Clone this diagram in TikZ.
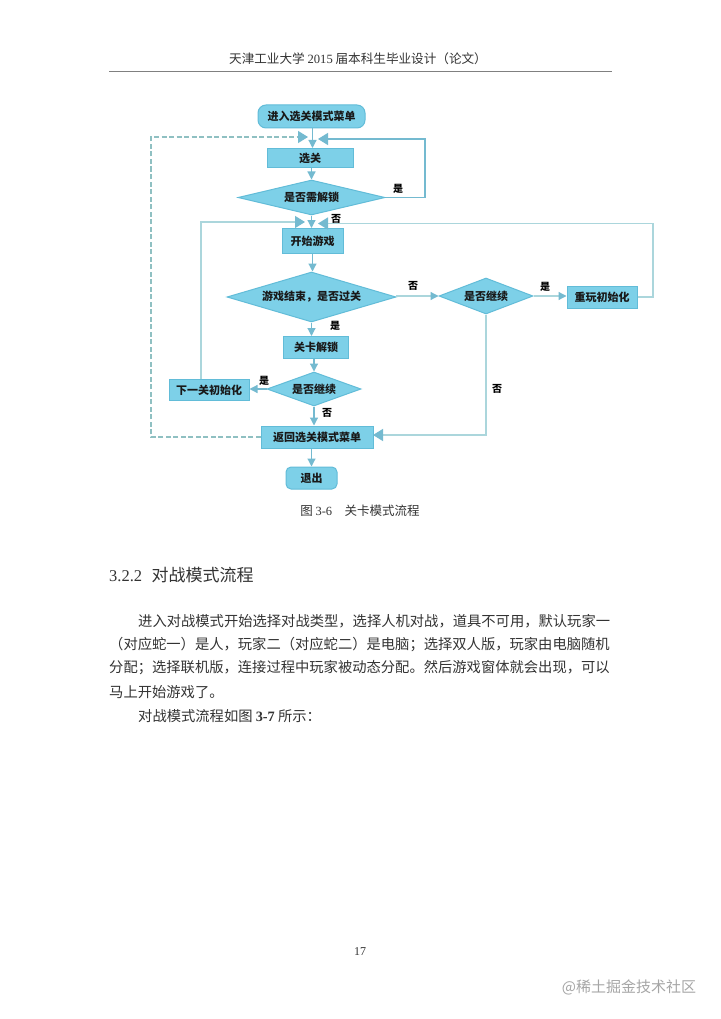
\documentclass[tikz,border=0pt]{standalone}
\usepackage{fontspec}
\setmainfont{Liberation Serif}
\newfontfamily\cjk{Noto Sans CJK SC}
\usetikzlibrary{shapes.geometric,arrows.meta}
\definecolor{boxfill}{HTML}{7DD0E8}
\definecolor{boxline}{HTML}{62BCD8}
\definecolor{flowline}{HTML}{74BAD0}
\definecolor{paleline}{HTML}{ABD6DC}
\definecolor{dashline}{HTML}{8FC0C2}
\tikzset{
    box/.style={draw=boxline,fill=boxfill,line width=1pt,inner sep=0,text=black!90},
    dia/.style={box,diamond,inner sep=0,aspect=4},
    flow/.style={draw=flowline,line width=1.2pt,-{Triangle[length=8pt,width=8pt]}},
    paleflow/.style={flow,draw=paleline,-{Triangle[length=8pt,width=8pt,color=flowline]}},
    bigflow/.style={draw=paleline,line width=1.3pt,-{Triangle[length=10pt,width=12pt,color=flowline]}},
    yesno/.style={inner sep=0,font=\cjk\fontsize{10}{12}\selectfont\bfseries},
    bodyline/.style={anchor=west,inner sep=0,text=black!80},
}
\begin{document}
\begin{tikzpicture}[x=1pt,y=-1pt]
    \providecommand{\boxfontsize}{\cjk\bfseries\fontsize{11}{12}\selectfont}
    \providecommand{\textfontsize}{\cjk\fontsize{14.3}{17}\selectfont}
    \providecommand{\captionfontsize}{\cjk\fontsize{12.5}{15}\selectfont}
    \useasboundingbox[fill=white] (0,0) rectangle (720,1019);
    % page head
    \node[inner sep=0,text=black!80] (head) at (358,59) {\cjk\fontsize{12.6}{15}\selectfont 天津工业大学 {\rmfamily 2015} 届本科生毕业设计（论文）};
    \coordinate (ruleleft) at (109,72);
    \coordinate (ruleright) at (612,72);
    \draw[black!50,line width=1pt] (ruleleft) -- (ruleright);
    % flow chart
    \node[box,rounded corners=8pt,minimum width=107pt,minimum height=23pt] (enter) at (311.5,116.5) {\boxfontsize 进入选关模式菜单};
    \node[box,minimum width=86pt,minimum height=19pt] (select) at (310,158) {\boxfontsize 选关};
    \node[dia,minimum width=147pt,minimum height=35pt] (unlock) at (311.5,197.5) {\boxfontsize 是否需解锁};
    \node[box,minimum width=61pt,minimum height=25pt] (start) at (312.5,241) {\boxfontsize 开始游戏};
    \node[dia,minimum width=169pt,minimum height=50pt] (over) at (311.5,297) {\boxfontsize 游戏结束，是否过关};
    \node[box,minimum width=65pt,minimum height=22pt] (pass) at (316,347.5) {\boxfontsize 关卡解锁};
    \node[dia,minimum width=94pt,minimum height=34pt] (nextask) at (314,389) {\boxfontsize 是否继续};
    \node[box,minimum width=80pt,minimum height=21pt] (nextinit) at (209,390) {\boxfontsize 下一关初始化};
    \node[box,minimum width=112pt,minimum height=22pt] (back) at (317,437) {\boxfontsize 返回选关模式菜单};
    \node[box,rounded corners=5pt,minimum width=51pt,minimum height=22pt] (quit) at (311.5,478) {\boxfontsize 退出};
    \node[dia,minimum width=94pt,minimum height=36pt] (retryask) at (486,296) {\boxfontsize 是否继续};
    \node[box,minimum width=70pt,minimum height=22pt] (retryinit) at (602,297) {\boxfontsize 重玩初始化};
    % corners and free ends
    \coordinate (dashtip) at (308,137);
    \coordinate (dashcorner) at (151,137);
    \coordinate (looptip) at (318,139);
    \coordinate (loopcorner) at (425,139);
    \coordinate (nexttip) at (305,222);
    \coordinate (nextcorner) at (201,222);
    \coordinate (retrytip) at (318,223.5);
    \coordinate (retrycorner) at (653,223.5);
    \coordinate (backtip) at (373,435);
    \coordinate (overright) at (396,296);
    % straight arrows
    \draw[flow] (enter.south -| start) -- (select.north -| start);
    \draw[flow] (select.south -| unlock) -- (unlock.north);
    \draw[flow] (unlock.south) -- (unlock.south |- start.north);
    \draw[flow] (start.south) -- (start.south |- over.north);
    \draw[flow] (over.south) -- (over.south |- pass.north);
    \draw[flow] (pass.south -| nextask) -- (nextask.north);
    \draw[flow] (nextask.south) -- (nextask.south |- back.north);
    \draw[flow] (back.south -| quit) -- (quit.north);
    \draw[flow] (nextask.west) -- (nextinit.east |- nextask.west);
    \draw[paleflow] (overright) -- (retryask.west);
    \draw[paleflow] (retryask.east) -- (retryinit.west |- retryask.east);
    % loops
    \draw[bigflow,draw=dashline,dash pattern=on 5pt off 2.5pt] (back.west) -| (dashcorner) -- (dashtip);
    \draw[bigflow,draw=flowline] (unlock.east) -| (loopcorner) -- (looptip);
    \draw[bigflow,draw=paleline] (nextinit.north -| nextcorner) -- (nextcorner) -- (nexttip);
    \draw[bigflow] (retryinit.east) -| (retrycorner) -- (retrytip);
    \draw[bigflow] (retryask.south) |- (backtip);
    % labels
    \node[yesno] (yes1) at (398,189) {是};
    \node[yesno] (no1) at (336,219) {否};
    \node[yesno] (no2) at (413,286) {否};
    \node[yesno] (yes2) at (545,287) {是};
    \node[yesno] (yes3) at (335,326) {是};
    \node[yesno] (yes4) at (264,381) {是};
    \node[yesno] (no3) at (327,413) {否};
    \node[yesno] (no4) at (497,389) {否};
    % caption and text
    \node[inner sep=0,text=black!80] (caption) at (360,511) {\captionfontsize 图 {\rmfamily 3-6}\quad 关卡模式流程};
    \node[bodyline] (section) at (109,575) {\cjk\fontsize{17}{20}\selectfont {\rmfamily\fontsize{16.5}{18}\selectfont 3.2.2}\,\, 对战模式流程};
    \node[bodyline] (line1) at (138,621) {\textfontsize 进入对战模式开始选择对战类型，选择人机对战，道具不可用，默认玩家一};
    \node[bodyline] (line2) at (109,645) {\textfontsize （对应蛇一）是人，玩家二（对应蛇二）是电脑；选择双人版，玩家由电脑随机};
    \node[bodyline] (line3) at (109,668) {\textfontsize 分配；选择联机版，连接过程中玩家被动态分配。然后游戏窗体就会出现，可以};
    \node[bodyline] (line4) at (109,692) {\textfontsize 马上开始游戏了。};
    \node[bodyline] (line5) at (138,716) {\textfontsize 对战模式流程如图 {\rmfamily\bfseries 3-7} 所示：};
    \node[inner sep=0,text=black!80] (page) at (360,952) {\fontsize{12}{14}\selectfont 17};
    \node[inner sep=0,text=black!35] (mark) at (629,987) {\cjk\fontsize{15}{17}\selectfont @稀土掘金技术社区};
\end{tikzpicture}
\end{document}
